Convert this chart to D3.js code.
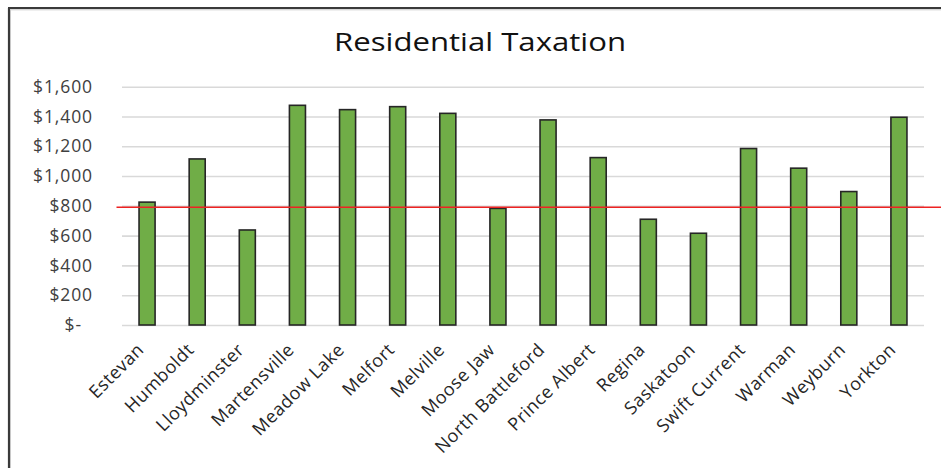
<!DOCTYPE html>
<html>
<head>
<meta charset="utf-8">
<script src="https://cdn.jsdelivr.net/npm/d3@7"></script>
<style>
  html, body { margin: 0; padding: 0; background: #fff; }
  svg { display: block; }
  text { font-family: "Open Sans", sans-serif; }
</style>
</head>
<body>
<svg id="chart" width="941" height="468"></svg>
<script>
const categories = ["Estevan","Humboldt","Lloydminster","Martensville","Meadow Lake","Melfort","Melville","Moose Jaw","North Battleford","Prince Albert","Regina","Saskatoon","Swift Current","Warman","Weyburn","Yorkton"];
const values = [825,1115,638,1475,1446,1466,1421,783,1377,1124,710,616,1185,1053,896,1395];
const yTicks = [0,200,400,600,800,1000,1200,1400,1600];
const referenceValue = [790];
const title = "Residential Taxation";

const svg = d3.select("#chart");
const W = 941, H = 468;
const plot = {left: 122, right: 924, top: 86.7, bottom: 325};
const FONT = "'Open Sans', sans-serif";

// frame
svg.append("rect").attr("x",0).attr("y",0).attr("width",W).attr("height",H).attr("fill","#fff");
svg.append("line").attr("x1",9).attr("x2",9).attr("y1",8).attr("y2",H).attr("stroke","#3a3a3a").attr("stroke-width",2.2);
svg.append("line").attr("x1",10.5).attr("x2",10.5).attr("y1",10).attr("y2",H).attr("stroke","#c8c8c8").attr("stroke-width",1);
svg.append("line").attr("x1",8).attr("x2",W).attr("y1",8).attr("y2",8).attr("stroke","#3a3a3a").attr("stroke-width",2.2);
svg.append("line").attr("x1",10).attr("x2",W).attr("y1",9.8).attr("y2",9.8).attr("stroke","#c8c8c8").attr("stroke-width",1);

const x = d3.scaleBand().domain(categories).range([plot.left, plot.right]).paddingInner(0.68).paddingOuter(0.34);
const y = d3.scaleLinear().domain([0,1600]).range([plot.bottom, plot.top]);

// title
svg.append("text").attr("x",480).attr("y",51).attr("text-anchor","middle")
  .attr("font-size",25).attr("fill","#111").attr("font-family",FONT)
  .attr("textLength",292).attr("lengthAdjust","spacingAndGlyphs").text(title);

// gridlines + y labels
const yAxis = d3.axisLeft(y).tickValues(yTicks)
  .tickFormat(d => d === 0 ? "$-" : "$" + d3.format(",")(d))
  .tickSize(-(plot.right - plot.left)).tickPadding(29);
const gy = svg.append("g").attr("transform",`translate(${plot.left},0)`).call(yAxis);
gy.select(".domain").remove();
gy.selectAll(".tick line").attr("stroke","#d9d9d9").attr("stroke-width",1.6);
gy.selectAll(".tick text").attr("font-size",17.5).attr("fill","#404040")
  .attr("font-family",FONT).attr("letter-spacing","0.9px")
  .attr("dx", d => d === 0 ? -11 : 0);

// bars
svg.append("g").selectAll("rect").data(values).join("rect")
  .attr("x",(d,i)=>x(categories[i]))
  .attr("y",d=>y(d))
  .attr("width",x.bandwidth())
  .attr("height",d=>y(0)-y(d))
  .attr("fill","#70ad47").attr("stroke","#262626").attr("stroke-width",1.6);

// x labels
const xAxis = d3.axisBottom(x).tickSize(0).tickPadding(0);
const gx = svg.append("g").attr("transform",`translate(0,${plot.bottom})`).call(xAxis);
gx.select(".domain").remove();
gx.selectAll(".tick text")
  .attr("font-size",18).attr("fill","#262626")
  .attr("font-family",FONT).attr("letter-spacing","0.5px")
  .attr("text-anchor","end")
  .attr("transform","translate(-11,17) rotate(-45)")
  .attr("dy","0.7em");

// reference line
svg.append("g").selectAll("line").data(referenceValue).join("line")
  .attr("x1",116.5).attr("x2",W)
  .attr("y1",d=>y(d)).attr("y2",d=>y(d))
  .attr("stroke","#ee2222").attr("stroke-width",1.5);
</script>
</body>
</html>
